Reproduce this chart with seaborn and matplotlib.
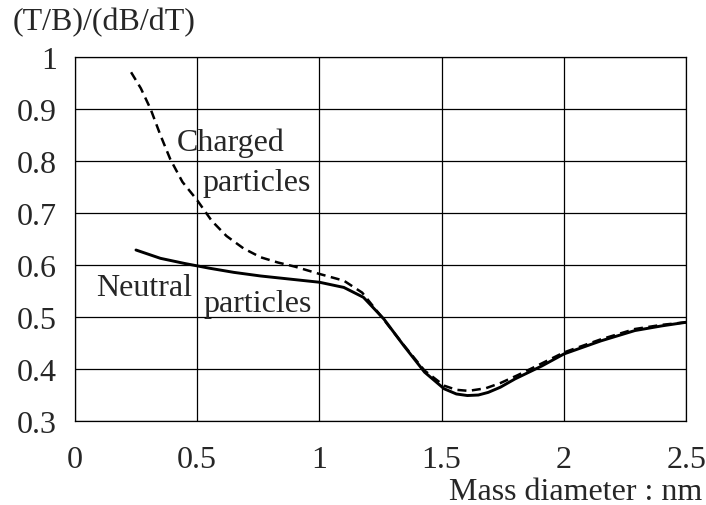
import pandas as pd
import matplotlib
matplotlib.use("Agg")
import matplotlib.pyplot as plt
import seaborn as sns

# Values
charged_x = [0.23, 0.27, 0.31, 0.35, 0.39, 0.44, 0.50, 0.56, 0.62, 0.69, 0.76, 0.83, 0.90, 1.00, 1.10, 1.175,
             1.26, 1.345, 1.43, 1.51, 1.56, 1.61, 1.68, 1.74, 1.81, 1.88, 2.00, 2.15, 2.29, 2.40, 2.50]
charged_y = [0.971, 0.94, 0.90, 0.85, 0.804, 0.76, 0.725, 0.685, 0.656, 0.632, 0.615, 0.605, 0.597, 0.583, 0.570, 0.547,
             0.497, 0.446, 0.397, 0.368, 0.360, 0.358, 0.363, 0.373, 0.388, 0.404, 0.432, 0.457, 0.477, 0.485, 0.490]

neutral_x = [0.25, 0.35, 0.45, 0.55, 0.65, 0.76, 0.88, 1.00, 1.10, 1.18, 1.264, 1.345, 1.43, 1.51, 1.56, 1.605,
             1.65, 1.69, 1.74, 1.80, 1.91, 2.00, 2.15, 2.29, 2.40, 2.50]
neutral_y = [0.629, 0.613, 0.603, 0.594, 0.586, 0.579, 0.573, 0.567, 0.557, 0.538, 0.496, 0.445, 0.394, 0.362, 0.352, 0.349,
             0.350, 0.355, 0.365, 0.381, 0.406, 0.429, 0.454, 0.474, 0.483, 0.490]

x_ticks = [0, 0.5, 1, 1.5, 2, 2.5]
x_tick_labels = ["0", "0.5", "1", "1.5", "2", "2.5"]
y_ticks = [0.3, 0.4, 0.5, 0.6, 0.7, 0.8, 0.9, 1.0]
y_tick_labels = ["0.3", "0.4", "0.5", "0.6", "0.7", "0.8", "0.9", "1"]

df_c = pd.DataFrame({"d": charged_x, "v": charged_y})
df_n = pd.DataFrame({"d": neutral_x, "v": neutral_y})

sns.set_style("white")
plt.rcParams["font.family"] = ["Liberation Serif", "DejaVu Serif"]
fs = 23

fig = plt.figure(figsize=(7.06, 5.06), dpi=100)
ax = fig.add_axes([0.106, 0.166, 0.866, 0.719])

sns.lineplot(data=df_c, x="d", y="v", ax=ax, color="black", lw=1.8, linestyle=(0, (3.6, 2.2)),
             sort=False, estimator=None)
sns.lineplot(data=df_n, x="d", y="v", ax=ax, color="black", lw=2.1, sort=False, estimator=None)

ax.set_xlim(0, 2.5)
ax.set_ylim(0.3, 1.0)
ax.set_xticks(x_ticks)
ax.set_xticklabels(x_tick_labels, fontsize=fs)
ax.set_yticks(y_ticks)
ax.set_yticklabels(y_tick_labels, fontsize=fs)
ax.tick_params(axis="x", length=0, pad=17)
ax.tick_params(axis="y", length=0, pad=13)
ax.grid(True, color="black", lw=0.9)
for s in ax.spines.values():
    s.set_color("black")
    s.set_linewidth(0.9)
ax.set_xlabel("")
ax.set_ylabel("")

ax.text(0.418, 0.836, "Charged", fontsize=fs, ha="left", va="center")
ax.text(0.52, 0.758, "particles", fontsize=fs, ha="left", va="center")
ax.text(0.086, 0.556, "Neutral", fontsize=fs, ha="left", va="center")
ax.text(0.525, 0.526, "particles", fontsize=fs, ha="left", va="center")

fig.text(0.018, 0.956, "(T/B)/(dB/dT)", fontsize=fs, ha="left", va="center")
fig.text(0.994, 0.026, "Mass diameter : nm", fontsize=fs, ha="right", va="center")

fig.savefig("out.png", dpi=100)
